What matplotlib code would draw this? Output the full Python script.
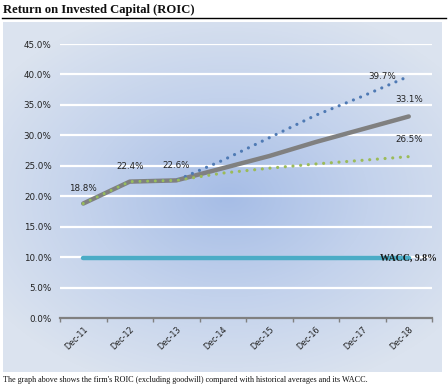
import numpy as np
import matplotlib
matplotlib.use("Agg")
import matplotlib.pyplot as plt
from matplotlib.colors import LinearSegmentedColormap
from matplotlib.ticker import FixedLocator

categories = ["Dec-11", "Dec-12", "Dec-13", "Dec-14", "Dec-15", "Dec-16", "Dec-17", "Dec-18"]
roic_base = [18.8, 22.4, 22.6, 24.6, 26.6, 28.9, 31.0, 33.1]
roic_high = [18.8, 22.4, 22.6, 25.9, 29.6, 33.3, 36.4, 39.7]
roic_low = [18.8, 22.4, 22.6, 23.8, 24.6, 25.3, 25.9, 26.5]
wacc = [9.8] * 8
yticks = [0, 5, 10, 15, 20, 25, 30, 35, 40, 45]

W, H = 448, 391
fig = plt.figure(figsize=(W / 100, H / 100), dpi=100)
fig.patch.set_facecolor("white")

# panel background with radial gradient
bg = fig.add_axes([3 / W, (H - 372) / H, 439 / W, 350 / H])
ny, nx = 350, 439
yy, xx = np.mgrid[0:ny, 0:nx]
cx, cy = 225, 175
d = np.sqrt(((xx - cx) / 280.0) ** 2 + ((yy - cy) / 200.0) ** 2)
d = np.clip(d, 0, 1)
cmap = LinearSegmentedColormap.from_list("bg", ["#a6bde6", "#c3d2ec", "#dbe3ef"])
bg.imshow(d, cmap=cmap, aspect="auto", extent=[0, nx, ny, 0], vmin=0, vmax=1)
bg.axis("off")

ax = fig.add_axes([60 / W, (H - 318) / H, 372 / W, 274 / H])
ax.patch.set_alpha(0)
x = np.arange(len(categories))
ax.set_xlim(-0.5, len(categories) - 0.5)
ax.set_ylim(0, 45)

for yv in yticks[1:]:
    ax.axhline(yv, color="white", lw=1.6, zorder=1)

ax.plot(x, wacc, color="#4bacc6", lw=3.2, solid_capstyle="round", zorder=3)
ax.plot(x, roic_base, color="#808080", lw=3.2, solid_capstyle="round", zorder=4)
ax.plot(x, roic_high, color="#4f7ab4", lw=2.3, linestyle=(0, (0.01, 2.4)), dash_capstyle="round", zorder=5)
ax.plot(x, roic_low, color="#9bbb59", lw=2.3, linestyle=(0, (0.01, 2.4)), dash_capstyle="round", zorder=6)

lab_font = dict(family="DejaVu Sans", fontsize=6.3, color="#222222")
for i in range(3):
    ax.annotate(f"{roic_base[i]:.1f}%", (x[i], roic_base[i]), xytext=(0, 11),
                textcoords="offset points", ha="center", va="center", **lab_font)
ax.annotate(f"{roic_high[-1]:.1f}%", (x[-1], roic_high[-1]), xytext=(-19, 0),
            textcoords="offset points", ha="center", va="center", **lab_font)
ax.annotate(f"{roic_base[-1]:.1f}%", (x[-1], roic_base[-1]), xytext=(0, 12),
            textcoords="offset points", ha="center", va="center", **lab_font)
ax.annotate(f"{roic_low[-1]:.1f}%", (x[-1], roic_low[-1]), xytext=(0, 12),
            textcoords="offset points", ha="center", va="center", **lab_font)
ax.annotate(f"WACC, {wacc[-1]:.1f}%", (x[-1], wacc[-1]), xytext=(-21, 0),
            textcoords="offset points", ha="left", va="center",
            family="Liberation Serif", fontweight="bold", fontsize=7, color="#1a1a1a", zorder=7)

ax.set_yticks(yticks)
ax.set_yticklabels([f"{v:.1f}%" for v in yticks], family="DejaVu Sans", fontsize=6.3, color="#222222")
ax.tick_params(axis="y", length=0, pad=6)
ax.set_xticks(x)
ax.set_xticklabels(categories, rotation=45, ha="right", rotation_mode="anchor",
                   family="DejaVu Sans", fontsize=5.8, color="#222222")
ax.tick_params(axis="x", length=0, pad=5)
ax.xaxis.set_minor_locator(FixedLocator(np.arange(-0.5, len(categories), 1.0)))
ax.tick_params(axis="x", which="minor", length=3, color="#808080", width=1)

for s in ["top", "right", "left"]:
    ax.spines[s].set_visible(False)
ax.spines["bottom"].set_color("#808080")
ax.spines["bottom"].set_linewidth(1.6)

fig.text(3 / W, 1 - 10 / H, "Return on Invested Capital (ROIC)", family="Liberation Serif",
         fontweight="bold", fontsize=9.1, ha="left", va="center", color="#111111")
fig.add_artist(plt.Line2D([2 / W, 446 / W], [1 - 18 / H, 1 - 18 / H], color="black", lw=1.0))
fig.text(3 / W, 1 - 380 / H,
         "The graph above shows the firm's ROIC (excluding goodwill) compared with historical averages and its WACC.",
         family="Liberation Serif", fontsize=5.9, ha="left", va="center", color="#111111")

fig.savefig("out.png", dpi=100)
